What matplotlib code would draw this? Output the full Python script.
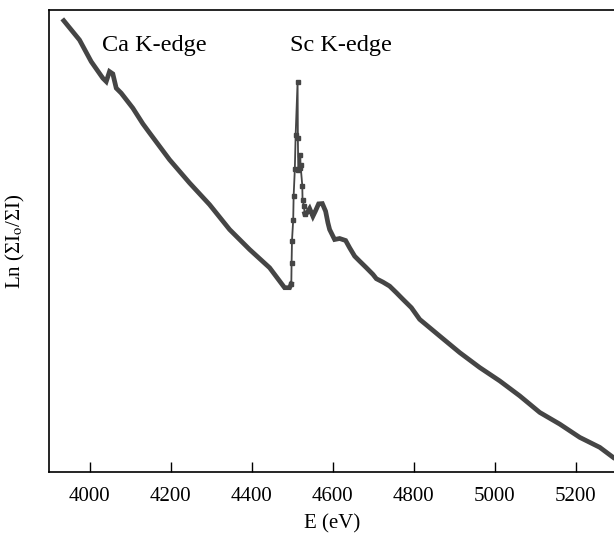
import matplotlib
matplotlib.use("Agg")
import matplotlib.pyplot as plt

plt.rcParams['font.family'] = ['Liberation Serif', 'DejaVu Serif']
plt.rcParams['mathtext.fontset'] = 'stix'

# pre-edge region (incl. Ca K-edge)
e_pre = [3936.5, 3975.3, 4004.2, 4032.9, 4041.3, 4049.4, 4057.6, 4066.0, 4078.3,
         4107.0, 4131.7, 4148.0, 4197.6, 4247.0, 4296.4, 4345.9, 4395.3,
         4444.7, 4481.7, 4494.0, 4498.3]
mu_pre = [4.523, 4.33, 4.113, 3.947, 3.913, 4.013, 3.99, 3.847, 3.797,
          3.647, 3.49, 3.40, 3.13, 2.897, 2.68, 2.43, 2.23,
          2.047, 1.847, 1.847, 1.887]

# Sc K-edge jump
e_edge = [4498.3, 4499.0, 4500.0, 4503.0, 4504.0, 4507.0, 4509.0, 4513.8, 4514.5,
          4515.5, 4518.8, 4520.5, 4521.0, 4525.4, 4526.0, 4529.4, 4531.2]
mu_edge = [1.887, 2.097, 2.32, 2.53, 2.763, 3.037, 3.38, 3.913, 3.343,
           3.03, 3.05, 3.173, 3.08, 2.87, 2.73, 2.67, 2.59]

# post-edge region
e_post = [4531.2, 4536.8, 4543.5, 4551.6, 4557.6, 4565.7, 4574.9, 4583.0, 4588.7,
          4592.9, 4605.2, 4617.6, 4632.4, 4642.3, 4654.7, 4667.0, 4683.6, 4699.9,
          4708.3, 4724.6, 4741.0, 4757.7, 4774.0, 4794.7, 4815.2, 4864.6, 4914.0,
          4963.5, 5012.9, 5062.3, 5111.7, 5161.1, 5210.5, 5259.9, 5292.8]
mu_post = [2.59, 2.597, 2.64, 2.563, 2.613, 2.687, 2.69, 2.613, 2.497,
           2.43, 2.33, 2.34, 2.32, 2.247, 2.163, 2.113, 2.047, 1.98,
           1.937, 1.903, 1.863, 1.797, 1.73, 1.647, 1.53, 1.363, 1.197,
           1.047, 0.913, 0.763, 0.597, 0.48, 0.347, 0.247, 0.147]

col = '#454545'
fig = plt.figure(figsize=(6.14, 5.35), dpi=100)
ax = fig.add_axes([49/614, 63/535, 567/614, 462/535])

ax.plot(e_pre, mu_pre, color=col, lw=3.4, solid_joinstyle='miter')
ax.plot(e_post, mu_post, color=col, lw=3.4, solid_joinstyle='miter')
ax.plot(e_edge, mu_edge, color=col, lw=1.3, marker='s', ms=3.2)

ax.set_xlim(3900, 5300)
ax.set_ylim(0, 4.63)
ax.set_xticks([4000, 4200, 4400, 4600, 4800, 5000, 5200])
ax.set_yticks([])
ax.tick_params(axis='x', direction='in', length=7.5, width=1, labelsize=15, pad=11)
for s in ax.spines.values():
    s.set_linewidth(1.2)

ax.set_xlabel('E (eV)', fontsize=15, labelpad=6)
ax.set_ylabel(r'Ln (ΣI$_\mathrm{o}$/ΣI)', fontsize=15, labelpad=16)

ax.text(4032, 4.215, 'Ca K-edge', fontsize=17.5, ha='left', va='baseline')
ax.text(4494, 4.215, 'Sc K-edge', fontsize=17.5, ha='left', va='baseline')

fig.savefig('out.png', dpi=100)
